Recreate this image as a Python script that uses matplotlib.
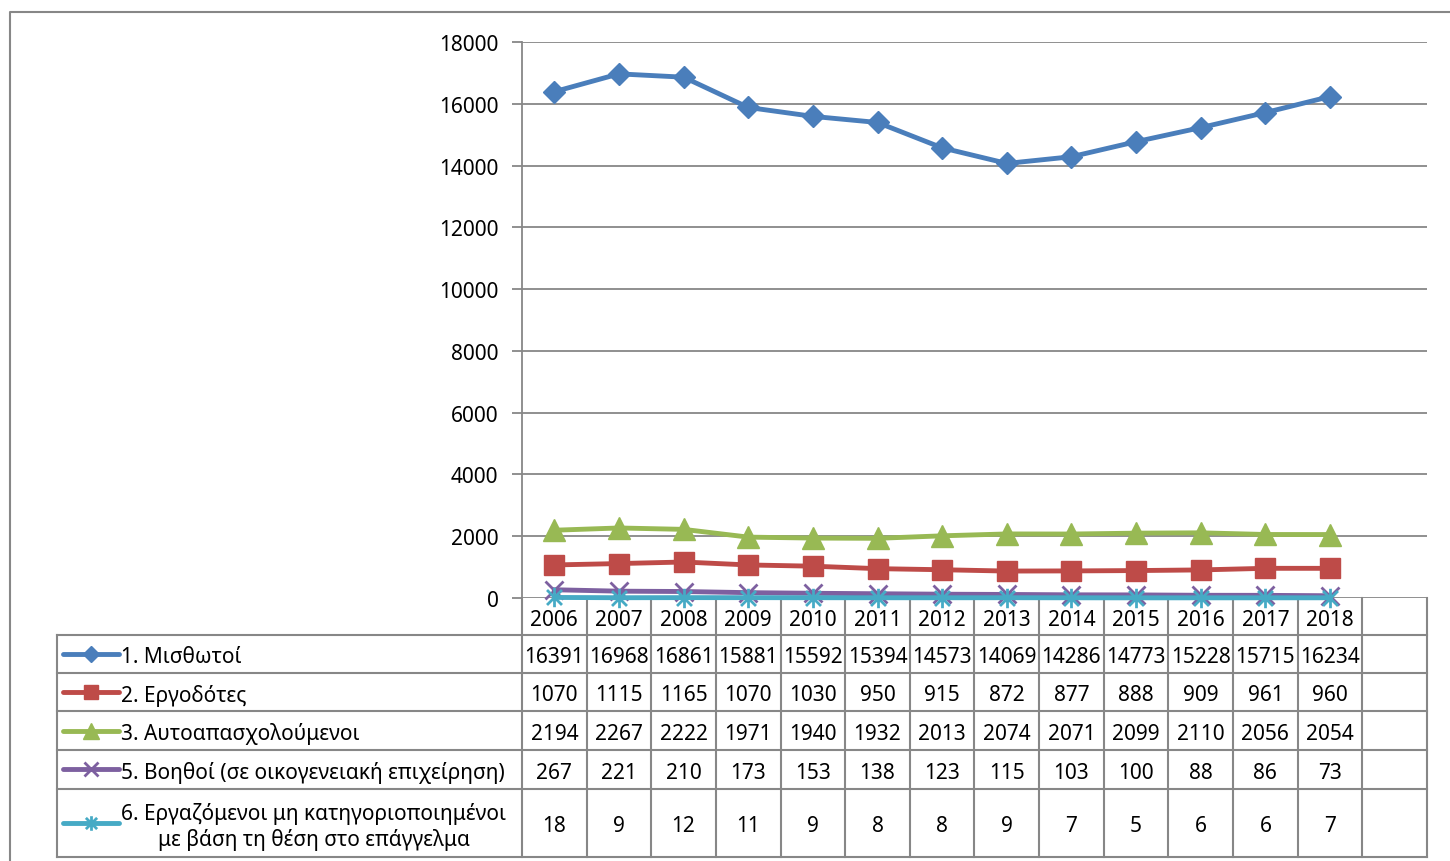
import matplotlib
matplotlib.use("Agg")
import matplotlib.pyplot as plt
from matplotlib.path import Path
import numpy as np

plt.rcParams['font.family'] = ['Noto Sans', 'DejaVu Sans']

# Data
years = ["2006", "2007", "2008", "2009", "2010", "2011", "2012",
         "2013", "2014", "2015", "2016", "2017", "2018"]
misthotoi = [16391, 16968, 16861, 15881, 15592, 15394, 14573, 14069, 14286, 14773, 15228, 15715, 16234]
ergodotes = [1070, 1115, 1165, 1070, 1030, 950, 915, 872, 877, 888, 909, 961, 960]
autoapasx = [2194, 2267, 2222, 1971, 1940, 1932, 2013, 2074, 2071, 2099, 2110, 2056, 2054]
voithoi = [267, 221, 210, 173, 153, 138, 123, 115, 103, 100, 88, 86, 73]
mi_kathgor = [18, 9, 12, 11, 9, 8, 8, 9, 7, 5, 6, 6, 7]

series_names = ["1. Μισθωτοί", "2. Εργοδότες", "3. Αυτοαπασχολούμενοι",
                "5. Βοηθοί (σε οικογενειακή επιχείρηση)",
                "6. Εργαζόμενοι μη κατηγοριοποιημένοι\nμε βάση τη θέση στο επάγγελμα"]
series_values = [misthotoi, ergodotes, autoapasx, voithoi, mi_kathgor]
yticks = [0, 2000, 4000, 6000, 8000, 10000, 12000, 14000, 16000, 18000]

# star marker like Excel's (x plus vertical bar)
star = Path([(-1, -1), (1, 1), (-1, 1), (1, -1), (0, -1.3), (0, 1.3)],
            [Path.MOVETO, Path.LINETO, Path.MOVETO, Path.LINETO, Path.MOVETO, Path.LINETO])

colors = ['#4a7ebb', '#be4b48', '#98b954', '#7d60a0', '#46aac5']
markers = [
    dict(marker='D', ms=11),
    dict(marker='s', ms=14),
    dict(marker='^', ms=16),
    dict(marker='x', ms=13, mew=2),
    dict(marker=star, ms=14, mew=2),
]

W, H = 1450, 862
grid_col = '#878787'
n_cat = 14  # one extra empty category at the right, as in the source
left, right, top, bottom = 522, 1427, 43, 599
cw = (right - left) / n_cat
dy = 3  # nudge table text down a little

fig = plt.figure(figsize=(W / 100, H / 100), dpi=100)

# overlay in pixel coordinates for table and frame
ov = fig.add_axes([0, 0, 1, 1])
ov.set_xlim(0, W)
ov.set_ylim(H, 0)
ov.axis('off')

ax = fig.add_axes([left / W, 1 - bottom / H, (right - left) / W, (bottom - top) / H])
ax.set_xlim(0, n_cat)
ax.set_ylim(0, 18000)
x = np.arange(len(years)) + 0.5
for vals, c, mk in zip(series_values, colors, markers):
    ax.plot(x, vals, lw=3.5, color=c, mec=c, mfc=c, clip_on=False, zorder=5, **mk)

ax.set_yticks(yticks)
ax.set_yticklabels([str(v) for v in yticks], fontsize=15)
ax.set_xticks([])
ax.yaxis.grid(True, color=grid_col, lw=1.3)
ax.set_axisbelow(True)
ax.tick_params(axis='y', length=7, width=1.3, color=grid_col, pad=10)
for s in ['top', 'right', 'bottom']:
    ax.spines[s].set_visible(False)
ax.spines['left'].set_color(grid_col)
ax.spines['left'].set_linewidth(1.3)
ax.patch.set_alpha(0)

# outer chart frame
ov.plot([10, 10, W], [H, 13, 13], color=grid_col, lw=1.5)

# data table
row_lines = [636, 674, 712, 751, 790, 858]
ov.plot([left, left], [bottom, row_lines[-1]], color=grid_col, lw=1.5)
for i in range(1, n_cat + 1):
    xv = left + i * cw
    ov.plot([xv, xv], [bottom, row_lines[-1]], color=grid_col, lw=1.5)
for yv in row_lines:
    ov.plot([57, right], [yv, yv], color=grid_col, lw=1.5)
ov.plot([57, 57], [row_lines[0], row_lines[-1]], color=grid_col, lw=1.5)

for i, yr in enumerate(years):
    ov.text(left + (i + 0.5) * cw, 618 + dy, yr, ha='center', va='center', fontsize=15)

for r, (name, vals, c, mk) in enumerate(zip(series_names, series_values, colors, markers)):
    yc = (row_lines[r] + row_lines[r + 1]) / 2
    ov.plot([63, 119], [yc, yc], lw=3.5, color=c, solid_capstyle='round')
    # legend markers drawn a bit smaller, like the source
    leg_mk = dict(mk)
    leg_mk['ms'] = mk['ms'] * 0.75
    ov.plot([91], [yc], lw=0, color=c, mec=c, mfc=c, **leg_mk)
    ov.text(121, yc + dy, name, ha='left', va='center', fontsize=15,
            multialignment='center', linespacing=1.25)
    for i, v in enumerate(vals):
        ov.text(left + (i + 0.5) * cw, yc + dy, str(v), ha='center', va='center', fontsize=15)

fig.savefig('out.png', dpi=100)
